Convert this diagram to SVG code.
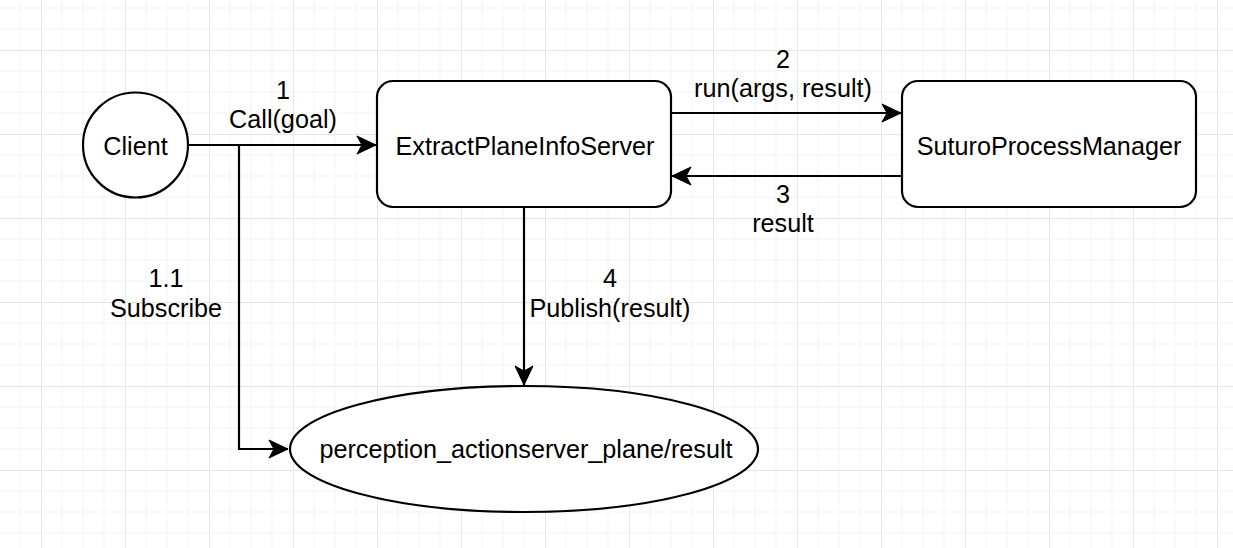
<svg xmlns="http://www.w3.org/2000/svg" width="1233" height="548" viewBox="0 0 1233 548">
<style>
.shape{fill:#ffffff;stroke:#000000;stroke-width:2.2}
.edge{fill:none;stroke:#000000;stroke-width:2.2}
text{font-family:"Liberation Sans",Arial,sans-serif;font-size:25.2px;fill:#000000;text-anchor:middle}
</style>
<defs>
<pattern id="grid" patternUnits="userSpaceOnUse" x="41" y="50" width="84" height="84">
<path d="M21,0V84M42,0V84M63,0V84M0,21H84M0,42H84M0,63H84" stroke="#f3f3f3" stroke-width="1" fill="none"/>
<path d="M0.5,0V84M0,0.5H84" stroke="#e6e6e6" stroke-width="1" fill="none"/>
</pattern>
<marker id="arr" markerUnits="userSpaceOnUse" markerWidth="24" markerHeight="24" viewBox="-22 -12 24 24" refX="0" refY="0" orient="auto">
<path d="M0,0 L-19,-9 L-14,0 L-19,9 Z" fill="#000000" stroke="#000000" stroke-width="1"/>
</marker>
</defs>
<rect width="1233" height="548" fill="#ffffff"/>
<rect width="1233" height="548" fill="url(#grid)"/>
<g id="connectors">
<path class="edge" d="M188,145 H376" marker-end="url(#arr)"/>
<path class="edge" d="M239,145 V449 H288" marker-end="url(#arr)"/>
<path class="edge" d="M671,113 H901" marker-end="url(#arr)"/>
<path class="edge" d="M902,176 H672" marker-end="url(#arr)"/>
<path class="edge" d="M524,207 V385" marker-end="url(#arr)"/>
<text x="283" y="99">1</text>
<text x="283" y="128">Call(goal)</text>
<text x="783" y="68">2</text>
<text x="783" y="97">run(args, result)</text>
<text x="783" y="203">3</text>
<text x="783" y="232">result</text>
<text x="166" y="287">1.1</text>
<text x="166" y="317">Subscribe</text>
<text x="610" y="287">4</text>
<text x="610" y="317">Publish(result)</text>
</g>
<g id="client">
<circle class="shape" cx="135.5" cy="145" r="52.5"/>
<text x="135.5" y="155">Client</text>
</g>
<g id="extract">
<rect class="shape" x="377" y="81" width="294" height="126" rx="16" ry="16"/>
<text x="525" y="155">ExtractPlaneInfoServer</text>
</g>
<g id="suturo">
<rect class="shape" x="902" y="81" width="294" height="126" rx="16" ry="16"/>
<text x="1049" y="155">SuturoProcessManager</text>
</g>
<g id="topic">
<ellipse class="shape" cx="524" cy="449" rx="234" ry="63"/>
<text x="526" y="458">perception_actionserver_plane/result</text>
</g>
</svg>
